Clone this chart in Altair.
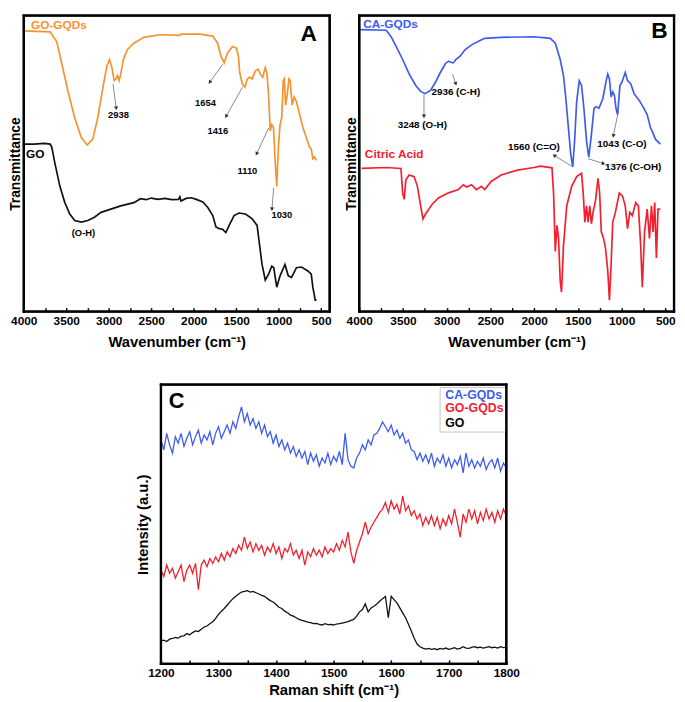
import math
import altair as alt
import pandas as pd

FONT = "Liberation Sans"
ORANGE = "#F7922F"
BLUE = "#3E5BF0"
RED = "#F2202E"
BLACK = "#000000"
GRAY = "#8a8a8a"

# ---------------- Panel A (FTIR) ----------------
a_gogqd_wn = [4000, 3690, 3613, 3555, 3478, 3400, 3323, 3254, 3188, 3130, 3072, 3022, 2991, 2963,
              2936, 2917, 2897, 2878, 2859, 2828, 2782, 2704, 2588, 2395, 2163, 2150, 1931, 1776,
              1718, 1680, 1641, 1602, 1544, 1498, 1474, 1459, 1428, 1397, 1370, 1343, 1312, 1274,
              1243, 1216, 1189, 1158, 1139, 1119, 1100, 1081, 1061, 1042, 1023, 1004, 984, 965,
              946, 934, 919, 900, 880, 865, 842, 818, 791, 752, 714, 675, 636, 617, 598, 578, 555]
a_gogqd_t = [863, 860, 830, 765, 675, 595, 535, 512, 530, 595, 685, 755, 775, 750,
             710, 715, 725, 710, 730, 775, 805, 825, 843, 851, 849, 853, 853, 847,
             825, 785, 765, 795, 815, 810, 785, 735, 700, 690, 715, 720, 715, 740,
             745, 730, 720, 750, 735, 665, 555, 575, 565, 465, 385, 505, 575, 595,
             710, 715, 635, 665, 715, 710, 635, 660, 645, 605, 565, 535, 505, 500, 470, 475, 465]

a_go_wn = [3990, 3880, 3760, 3690, 3670, 3633, 3575, 3517, 3459, 3400, 3323, 3246, 3168, 3091,
           2975, 2859, 2704, 2627, 2560, 2500, 2420, 2340, 2260, 2180, 2163, 2150, 2090, 2028,
           1970, 1893, 1834, 1776, 1738, 1699, 1660, 1622, 1583, 1525, 1467, 1390, 1312, 1254,
           1235, 1196, 1158, 1119, 1081, 1058, 1023, 984, 926, 887, 849, 791, 733, 656, 617,
           598, 570, 555]
a_go_t = [515, 515, 517, 515, 505, 455, 385, 335, 300, 280, 275, 280, 290, 305,
          315, 325, 335, 347, 344, 349, 345, 348, 344, 345, 353, 340, 348, 350,
          345, 337, 320, 295, 260, 255, 253, 243, 265, 295, 303, 300, 285, 265,
          225, 145, 97, 115, 140, 135, 75, 110, 145, 110, 105, 135, 137, 125, 115,
          75, 35, 35]

a_labels_text = ["2938", "1654", "1416", "1110", "1030", "(O-H)"]
a_labels_wn = [2885, 1862, 1716, 1368, 963, 3298]
a_labels_t = [605, 640, 555, 432, 297, 240]

a_arrow_wn = [2950, 1658, 1426, 1117, 1059]
a_arrow_t = [700, 760, 690, 565, 380]
a_arrow_wn2 = [2912, 1812, 1619, 1260, 1079]
a_arrow_t2 = [625, 705, 600, 485, 315]

# ---------------- Panel B (FTIR) ----------------
b_cagqd_wn = [3992, 3692, 3636, 3579, 3504, 3429, 3354, 3298, 3249, 3185, 3129, 3073, 3016, 2979,
              2941, 2922, 2896, 2847, 2791, 2716, 2641, 2566, 2378, 2002, 1815, 1758, 1702, 1664,
              1634, 1608, 1582, 1559, 1537, 1514, 1484, 1458, 1431, 1401, 1375, 1345, 1315, 1289,
              1259, 1214, 1176, 1158, 1139, 1120, 1101, 1082, 1064, 1045, 1019, 996, 958, 932,
              894, 857, 800, 744, 707, 669, 643, 613, 557]
b_cagqd_t = [867, 865, 845, 815, 775, 730, 695, 677, 670, 680, 705, 735, 762, 770,
             765, 765, 775, 785, 805, 820, 830, 840, 843, 845, 840, 825, 775, 725,
             645, 565, 485, 445, 525, 645, 710, 695, 625, 525, 475, 545, 625, 630,
             625, 655, 710, 730, 715, 660, 675, 665, 625, 605, 695, 705, 735, 710,
             700, 670, 650, 625, 605, 565, 550, 530, 515]

b_citric_wn = [3974, 3692, 3523, 3504, 3486, 3467, 3429, 3373, 3335, 3298, 3272, 3242, 3204, 3166,
               3091, 2979, 2866, 2810, 2772, 2716, 2660, 2603, 2566, 2491, 2378, 2190, 2002, 1927,
               1796, 1778, 1758, 1739, 1721, 1702, 1687, 1664, 1627, 1571, 1514, 1458, 1439, 1420,
               1401, 1383, 1364, 1345, 1326, 1296, 1270, 1251, 1232, 1206, 1184, 1158, 1139, 1120,
               1101, 1071, 1026, 989, 958, 932, 906, 876, 838, 808, 782, 763, 737, 707, 681, 658,
               640, 621, 602, 583, 557]
b_citric_t = [440, 443, 440, 365, 345, 405, 420, 415, 385, 325, 285, 300, 315, 330,
              350, 365, 375, 390, 383, 390, 375, 385, 375, 400, 420, 435, 443, 447,
              442, 365, 185, 265, 225, 95, 60, 205, 325, 385, 415, 425, 365, 275,
              325, 275, 325, 270, 305, 345, 410, 365, 245, 225, 195, 125, 35, 145,
              275, 305, 365, 355, 325, 255, 305, 295, 335, 325, 205, 75, 245, 315, 225, 325,
              245, 335, 165, 315, 315]

b_labels_text = ["2936 (C-H)", "3248 (O-H)", "1560 (C=O)", "1376 (C-OH)", "1043 (C-O)"]
b_labels_wn = [2896, 3279, 2002, 868, 996]
b_labels_t = [675, 575, 505, 443, 515]

b_arrow_wn = [2934, 3260, 1571, 1383, 1045]
b_arrow_t = [730, 667, 447, 470, 605]
b_arrow_wn2 = [2896, 3260, 1770, 1206, 1094]
b_arrow_t2 = [700, 600, 480, 455, 540]

# ---------------- Panel C (Raman) ----------------
raman_shift = list(range(1200, 1805, 5))
c_cagqd = [680, 650, 700, 665, 640, 690, 670, 700, 660, 685,
           705, 665, 690, 710, 670, 695, 680, 705, 665, 700,
           720, 685, 705, 725, 700, 735, 715, 750, 780, 735,
           760, 725, 745, 715, 735, 700, 725, 690, 705, 670,
           695, 660, 680, 650, 670, 640, 660, 630, 650, 625,
           645, 605, 640, 615, 635, 600, 625, 610, 640, 605,
           630, 615, 645, 605, 700, 620, 600, 595, 625, 640,
           665, 650, 680, 665, 695, 700, 715, 735, 720, 705,
           725, 695, 710, 685, 700, 670, 680, 650, 645, 620,
           640, 615, 635, 610, 640, 600, 625, 610, 635, 600,
           625, 595, 620, 605, 630, 580, 640, 600, 620, 595,
           615, 600, 625, 590, 610, 620, 595, 625, 585, 610,
           595]
c_gogqd = [285, 265, 300, 275, 290, 260, 280, 300, 250, 285,
           300, 275, 305, 225, 300, 315, 295, 320, 305, 325,
           310, 335, 315, 340, 325, 350, 335, 360, 345, 385,
           350, 370, 340, 365, 345, 360, 330, 355, 340, 365,
           335, 355, 320, 350, 340, 365, 330, 345, 320, 345,
           300, 340, 325, 350, 330, 345, 325, 355, 335, 350,
           340, 365, 345, 375, 355, 400, 340, 305, 345, 370,
           395, 430, 395, 415, 430, 445, 460, 470, 490, 460,
           495, 470, 485, 455, 510, 465, 480, 450, 465, 440,
           455, 420, 445, 425, 450, 420, 445, 410, 440, 420,
           450, 425, 470, 430, 385, 455, 430, 470, 440, 465,
           425, 460, 435, 470, 440, 460, 430, 465, 440, 470,
           450]
c_go = [70, 72, 68, 75, 77, 80, 78, 84, 85, 92,
        88, 95, 100, 98, 105, 112, 115, 122, 128, 138,
        150, 160, 168, 178, 188, 198, 205, 212, 218, 220,
        222, 218, 220, 216, 212, 208, 205, 198, 192, 188,
        180, 172, 168, 160, 155, 148, 145, 140, 135, 132,
        130, 127, 125, 122, 123, 120, 118, 122, 119, 120,
        118, 121, 122, 124, 126, 128, 132, 135, 145, 158,
        165, 182, 158, 170, 175, 182, 190, 198, 205, 140,
        205, 195, 185, 170, 155, 140, 120, 100, 78, 60,
        52, 48, 45, 47, 44, 46, 43, 47, 45, 48,
        44, 46, 49, 45, 47, 52, 48, 47, 50, 52,
        49, 51, 48, 50, 52, 49, 51, 48, 52, 49,
        50]

c_legend_names = ["CA-GQDs", "GO-GQDs", "GO"]
c_legend_x = [1694, 1694, 1694]
c_legend_t = [815, 776, 731]

# ---------------- layout constants ----------------
W_A, W_B, H_AB = 310, 319, 300
W_C, H_C = 350, 283
FTIR_DOM = [4000, 400]
T_DOM = [0, 910]
C_DOM = [1200, 1800]
CT_DOM = [0, 848]


def frame_df(xd, yd, xn, yn):
    # four edges of the plotting box, at the scale domain limits
    return pd.DataFrame({
        xn: [xd[0], xd[0], xd[0], xd[1]],
        xn + "2": [xd[1], xd[1], xd[0], xd[1]],
        yn: [yd[0], yd[1], yd[0], yd[0]],
        yn + "2": [yd[0], yd[1], yd[1], yd[1]],
    })


def ftir_axes(yt):
    x = alt.X("wn:Q",
              scale=alt.Scale(domain=FTIR_DOM, nice=False, zero=False),
              axis=alt.Axis(title="Wavenumber (cm⁻¹)", values=list(range(500, 4001, 250)),
                            labelExpr="datum.value % 500 === 0 ? datum.label : ''",
                            format="d", offset=-4, tickSize=4, tickColor=BLACK, tickWidth=1.5,
                            domain=False, grid=False, labelPadding=4, labelFontSize=12,
                            labelFlush=False, labelOverlap=False,
                            labelFontWeight="bold", labelColor=BLACK, labelFont=FONT,
                            titleFontSize=15, titleFontWeight="bold", titleColor=BLACK,
                            titleFont=FONT, titlePadding=8))
    y = alt.Y("t:Q",
              scale=alt.Scale(domain=T_DOM, nice=False, zero=False),
              axis=alt.Axis(title=yt, labels=False, ticks=False, domain=False, grid=False,
                            titleFontSize=14, titleFontWeight="bold", titleColor=BLACK,
                            titleFont=FONT, titlePadding=1))
    return x, y


def arrow_frames(wn, t, wn2, t2, W, H, dom, tdom):
    sx = W / abs(dom[0] - dom[1])
    sy = H / (tdom[1] - tdom[0])
    rules = pd.DataFrame({"wn": wn, "t": t, "wn2": wn2, "t2": t2})
    angs = []
    for a, b, c, d in zip(wn, t, wn2, t2):
        dx = (a - c) * sx
        dy = -(d - b) * sy
        angs.append(math.degrees(math.atan2(dx, -dy)) % 360)
    heads = pd.DataFrame({"wn": wn2, "t": t2, "ang": angs})
    return rules, heads


def ftir_panel(series, W, names_df, ann_df, rules, heads, letter_df, ann_size):
    x, y = ftir_axes("Transmittance")
    frame = alt.Chart(frame_df(FTIR_DOM, T_DOM, "wn", "t")).mark_rule(
        color=BLACK, strokeWidth=2.4, strokeCap="square").encode(x=x, y=y, x2="wn2:Q", y2="t2:Q")
    df = pd.concat([pd.DataFrame({"wn": w, "t": v, "s": n, "col": c})
                    for n, (w, v, c) in series.items()])
    lines = alt.Chart(df).mark_line(strokeWidth=1.7).encode(
        x=x, y=y, color=alt.Color("col:N", scale=None), detail="s:N")
    rl = alt.Chart(rules).mark_rule(color=GRAY, strokeWidth=1).encode(
        x=x, y=y, x2="wn2:Q", y2="t2:Q")
    hd = alt.Chart(heads).mark_point(shape="triangle-up", filled=True, color="#333333",
                                     size=18, opacity=1).encode(
        x=x, y=y, angle=alt.Angle("ang:Q", scale=None))
    names = alt.Chart(names_df).mark_text(align="left", baseline="middle", font=FONT,
                                          fontWeight="bold", fontSize=12).encode(
        x=x, y=y, text="label:N", color=alt.Color("col:N", scale=None))
    ann = alt.Chart(ann_df).mark_text(align="center", baseline="middle", font=FONT,
                                      fontWeight="bold", fontSize=ann_size, color=BLACK).encode(
        x=x, y=y, text="label:N")
    let = alt.Chart(letter_df).mark_text(align="center", baseline="middle", font=FONT,
                                         fontWeight="bold", fontSize=23, color=BLACK).encode(
        x=x, y=y, text="label:N")
    return alt.layer(lines, rl, hd, names, ann, let, frame).properties(width=W, height=H_AB)


# Panel A
ra, ha = arrow_frames(a_arrow_wn, a_arrow_t, a_arrow_wn2, a_arrow_t2, W_A, H_AB, FTIR_DOM, T_DOM)
panel_a = ftir_panel(
    {"GO-GQDs": (a_gogqd_wn, a_gogqd_t, ORANGE), "GO": (a_go_wn, a_go_t, "#111111")}, W_A,
    pd.DataFrame({"wn": [3915, 3973], "t": [880, 485], "label": ["GO-GQDs", "GO"], "col": [ORANGE, BLACK]}),
    pd.DataFrame({"wn": a_labels_wn, "t": a_labels_t, "label": a_labels_text}),
    ra, ha,
    pd.DataFrame({"wn": [646], "t": [852], "label": ["A"]}), 9.5)

# Panel B
rb, hb = arrow_frames(b_arrow_wn, b_arrow_t, b_arrow_wn2, b_arrow_t2, W_B, H_AB, FTIR_DOM, T_DOM)
panel_b = ftir_panel(
    {"CA-GQDs": (b_cagqd_wn, b_cagqd_t, BLUE), "Citric Acid": (b_citric_wn, b_citric_t, RED)}, W_B,
    pd.DataFrame({"wn": [3955, 3936], "t": [885, 485], "label": ["CA-GQDs", "Citric Acid"], "col": [BLUE, RED]}),
    pd.DataFrame({"wn": b_labels_wn, "t": b_labels_t, "label": b_labels_text}),
    rb, hb,
    pd.DataFrame({"wn": [568], "t": [862], "label": ["B"]}), 10)

# Panel C
cx = alt.X("rs:Q", scale=alt.Scale(domain=C_DOM, nice=False, zero=False),
           axis=alt.Axis(title="Raman shift (cm⁻¹)", values=list(range(1200, 1801, 50)),
                         labelExpr="datum.value % 100 === 0 ? datum.label : ''",
                         format="d", offset=-4, tickSize=4, tickColor=BLACK, tickWidth=1.5,
                         domain=False, grid=False, labelPadding=4, labelFontSize=12,
                         labelFlush=False, labelOverlap=False,
                         labelFontWeight="bold", labelColor=BLACK, labelFont=FONT,
                         titleFontSize=15, titleFontWeight="bold", titleColor=BLACK,
                         titleFont=FONT, titlePadding=4))
cy = alt.Y("v:Q", scale=alt.Scale(domain=CT_DOM, nice=False, zero=False),
           axis=alt.Axis(title="Intensity (a.u.)", labels=False, ticks=False, domain=False, grid=False,
                         titleFontSize=15, titleFontWeight="bold", titleColor=BLACK,
                         titleFont=FONT, titlePadding=11))
c_frame = alt.Chart(frame_df(C_DOM, CT_DOM, "rs", "v")).mark_rule(
    color=BLACK, strokeWidth=2.4, strokeCap="square").encode(x=cx, y=cy, x2="rs2:Q", y2="v2:Q")
cdf = pd.concat([
    pd.DataFrame({"rs": raman_shift, "v": c_cagqd, "s": "CA-GQDs", "col": BLUE}),
    pd.DataFrame({"rs": raman_shift, "v": c_gogqd, "s": "GO-GQDs", "col": RED}),
    pd.DataFrame({"rs": raman_shift, "v": c_go, "s": "GO", "col": "#111111"}),
])
c_lines = alt.Chart(cdf).mark_line(strokeWidth=1.3).encode(
    x=cx, y=cy, color=alt.Color("col:N", scale=None), detail="s:N")
c_box = alt.Chart(pd.DataFrame({"rs": [1685], "v": [704], "rs2": [1800], "v2": [839]})).mark_rect(
    fill="white", stroke="#c4c4c4", strokeWidth=1).encode(x=cx, y=cy, x2="rs2:Q", y2="v2:Q")
c_leg = alt.Chart(pd.DataFrame({"rs": c_legend_x, "v": c_legend_t, "label": c_legend_names,
                                "col": [BLUE, RED, BLACK]})).mark_text(
    align="left", baseline="middle", font=FONT, fontWeight="bold", fontSize=12.5).encode(
    x=cx, y=cy, text="label:N", color=alt.Color("col:N", scale=None))
c_let = alt.Chart(pd.DataFrame({"rs": [1227], "v": [798], "label": ["C"]})).mark_text(
    align="center", baseline="middle", font=FONT, fontWeight="bold", fontSize=22, color=BLACK).encode(
    x=cx, y=cy, text="label:N")
panel_c = alt.layer(c_lines, c_box, c_leg, c_let, c_frame).properties(width=W_C, height=H_C)

spacer = alt.Chart(pd.DataFrame({"z": [0]})).mark_point(opacity=0).encode(
    x=alt.X("z:Q", axis=None), y=alt.Y("z:Q", axis=None)
).properties(width=112, height=10, view=alt.ViewBackground(stroke="transparent", strokeWidth=0))

chart = alt.vconcat(
    alt.hconcat(panel_a, panel_b, spacing=11),
    alt.hconcat(spacer, panel_c, spacing=0),
    spacing=32,
).properties(padding=0).configure(
    font=FONT,
    view=alt.ViewConfig(stroke=BLACK, strokeWidth=2),
)

chart.save("out.html", embed_options={"renderer": "svg", "actions": False})
